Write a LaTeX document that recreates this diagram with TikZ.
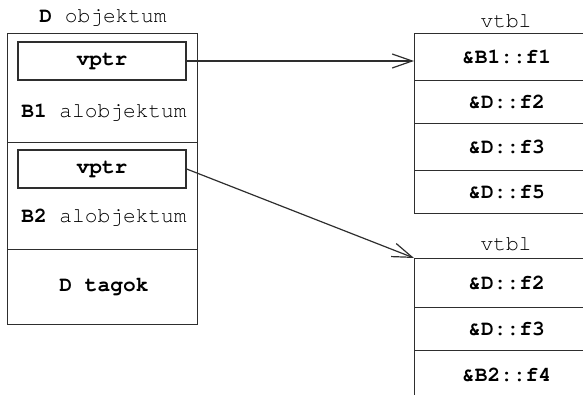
\documentclass[tikz,border=0pt]{standalone}
\usepackage{fontspec}
\setmonofont{TeX Gyre Cursor}
\usetikzlibrary{arrows.meta}
\colorlet{ink}{black!82}
\tikzset{
  base/.style={font=\ttfamily\fontsize{21.2}{25}\selectfont, text=black, inner sep=0pt},
  frame/.style={draw=ink, line width=1.3pt},
  ptrbox/.style={base, frame, minimum width=168pt, minimum height=38pt},
  slot/.style={base, frame, minimum width=184pt, anchor=north west},
  part/.style={frame, minimum width=190pt, anchor=north west, inner sep=0pt},
  link/.style={draw=ink, line width=1.2pt, -{Straight Barb[length=20pt,width=14pt,line width=1.2pt]}}
}
\begin{document}
\begin{tikzpicture}[x=1pt, y=-1pt]
  \useasboundingbox (0,0) rectangle (583,395);
  \clip (0,0) rectangle (583,395);

  % D object: three stacked parts
  \node[base] (dlabel) at (103,18) {\textbf{D} objektum};
  \node[part, minimum height=109pt] (p1) at (7,33) {};
  \node[part, minimum height=107pt] (p2) at (7,142) {};
  \node[part, minimum height=75pt]  (p3) at (7,249) {};

  \node[ptrbox] (vptr1) at (102,61) {\textbf{vptr}};
  \node[base] (b1) at (104,113) {\textbf{B1} alobjektum};
  \node[ptrbox] (vptr2) at (102,169) {\textbf{vptr}};
  \node[base] (b2) at (104,218) {\textbf{B2} alobjektum};
  \node[base] (dt) at (104,287) {\textbf{D tagok}};

  % first vtbl
  \node[base] (vt1) at (506,21) {vtbl};
  \node[slot, minimum height=47pt] (r11) at (414,33)  {\textbf{\&B1::f1}};
  \node[slot, minimum height=43pt] (r12) at (414,80)  {\textbf{\&D::f2}};
  \node[slot, minimum height=47pt] (r13) at (414,123) {\textbf{\&D::f3}};
  \node[slot, minimum height=43pt] (r14) at (414,170) {\textbf{\&D::f5}};

  % second vtbl
  \node[base] (vt2) at (506,244) {vtbl};
  \node[slot, minimum height=49pt] (r21) at (414,258) {\textbf{\&D::f2}};
  \node[slot, minimum height=43pt] (r22) at (414,307) {\textbf{\&D::f3}};
  \node[slot, minimum height=48pt] (r23) at (414,350) {\textbf{\&B2::f4}};

  % pointers
  \draw[link] (vptr1.east) -- (vptr1.east -| r11.west);
  \draw[link] (vptr2.east) -- (r21.north west);
\end{tikzpicture}
\end{document}
